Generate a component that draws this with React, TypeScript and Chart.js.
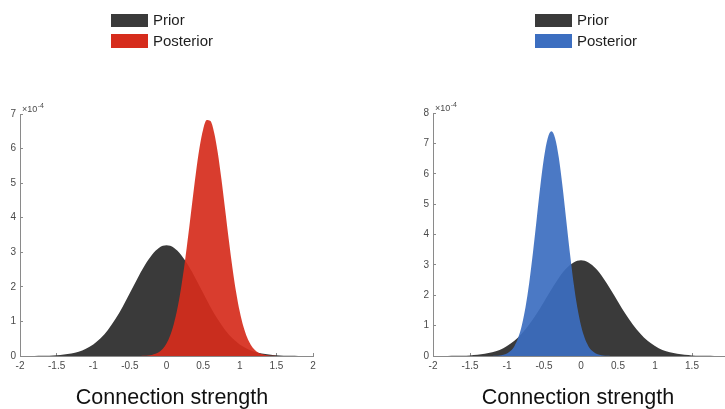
import React, { useEffect, useRef } from "react";
import { Chart, registerables } from "chart.js";

Chart.register(...registerables);

// ---------- data ----------
const SERIES_NAMES = ["Prior", "Posterior"];
const X_TITLE = "Connection strength";
const Y_EXPONENT_BASE = "\u00d710";
const Y_EXPONENT_POWER = "-4";

const X_TICKS = [-2, -1.5, -1, -0.5, 0, 0.5, 1, 1.5, 2];
const LEFT_Y_TICKS = [0, 1, 2, 3, 4, 5, 6, 7];
const RIGHT_Y_TICKS = [0, 1, 2, 3, 4, 5, 6, 7, 8];

// values in units of 1e-4
const PRIOR_X = [
  -2.0, -1.9, -1.8, -1.7, -1.6, -1.5, -1.4, -1.3, -1.2, -1.1, -1.0, -0.9, -0.8, -0.7, -0.6, -0.5, -0.4, -0.3, -0.2, -0.1,
  0.0, 0.1, 0.2, 0.3, 0.4, 0.5, 0.6, 0.7, 0.8, 0.9, 1.0, 1.1, 1.2, 1.3, 1.4, 1.5, 1.6, 1.7, 1.8, 1.9, 2.0,
];
const LEFT_PRIOR_Y = [
  0.0, 0.0, 0.0, 0.005, 0.01, 0.02, 0.04, 0.07, 0.12, 0.21, 0.33, 0.51, 0.75, 1.06, 1.42, 1.82, 2.23, 2.61, 2.92, 3.13,
  3.2, 3.13, 2.92, 2.61, 2.23, 1.82, 1.42, 1.06, 0.75, 0.51, 0.33, 0.21, 0.12, 0.07, 0.04, 0.02, 0.01, 0.005, 0.0, 0.0, 0.0,
];
const RIGHT_PRIOR_Y = [
  0.0, 0.0, 0.0, 0.005, 0.01, 0.02, 0.04, 0.07, 0.12, 0.2, 0.33, 0.5, 0.74, 1.04, 1.39, 1.79, 2.19, 2.57, 2.88, 3.08,
  3.15, 3.08, 2.88, 2.57, 2.19, 1.79, 1.39, 1.04, 0.74, 0.5, 0.33, 0.2, 0.12, 0.07, 0.04, 0.02, 0.01, 0.005, 0.0, 0.0, 0.0,
];

const LEFT_POST_X = [
  -0.35, -0.3, -0.25, -0.2, -0.15, -0.1, -0.05, 0.0, 0.05, 0.1, 0.15, 0.2, 0.25, 0.3, 0.35, 0.4, 0.45, 0.5, 0.55, 0.6,
  0.65, 0.7, 0.75, 0.8, 0.85, 0.9, 0.95, 1.0, 1.05, 1.1, 1.15, 1.2, 1.25, 1.3, 1.35, 1.4, 1.45, 1.5,
];
const LEFT_POST_Y = [
  0.0, 0.007, 0.016, 0.032, 0.063, 0.118, 0.211, 0.362, 0.592, 0.927, 1.387, 1.983, 2.711, 3.541, 4.42, 5.273, 6.013,
  6.553, 6.825, 6.794, 6.465, 5.878, 5.109, 4.243, 3.368, 2.556, 1.853, 1.284, 0.851, 0.539, 0.326, 0.188, 0.104, 0.055,
  0.028, 0.013, 0.006, 0.0,
];

const RIGHT_POST_X = [
  -1.25, -1.2, -1.15, -1.1, -1.05, -1.0, -0.95, -0.9, -0.85, -0.8, -0.75, -0.7, -0.65, -0.6, -0.55, -0.5, -0.45, -0.4,
  -0.35, -0.3, -0.25, -0.2, -0.15, -0.1, -0.05, 0.0, 0.05, 0.1, 0.15, 0.2, 0.25, 0.3, 0.35, 0.4, 0.45,
];
const RIGHT_POST_Y = [
  0.0, 0.003, 0.007, 0.016, 0.038, 0.082, 0.169, 0.325, 0.589, 1.001, 1.601, 2.403, 3.388, 4.488, 5.586, 6.531, 7.172,
  7.4, 7.172, 6.531, 5.586, 4.488, 3.388, 2.403, 1.601, 1.001, 0.589, 0.325, 0.169, 0.082, 0.038, 0.016, 0.007, 0.003,
  0.0,
];

// ---------- styles ----------
const FONT = "'Liberation Sans', Arial, Helvetica, sans-serif";
const PRIOR_COLOR = "#3a3a3a";
const RED = "rgba(214, 44, 28, 0.92)";
const RED_SOLID = "rgb(214, 44, 28)";
const BLUE = "rgba(60, 110, 192, 0.92)";
const BLUE_SOLID = "rgb(60, 110, 192)";
const AXIS_COLOR = "#8a8a8a";
const TICK_COLOR = "#4a4a4a";

const boxLegendPlugin = {
  id: "boxLegend",
  afterDraw(chart: any, _args: any, opts: any) {
    const ctx = chart.ctx;
    ctx.save();
    const x0 = opts.x;
    const rows = [
      { y: 14, h: 13, color: PRIOR_COLOR, label: SERIES_NAMES[0] },
      { y: 34, h: 14, color: opts.postColor, label: SERIES_NAMES[1] },
    ];
    ctx.font = `15px ${FONT}`;
    ctx.textAlign = "left";
    ctx.textBaseline = "middle";
    for (const r of rows) {
      ctx.fillStyle = r.color;
      ctx.fillRect(x0, r.y, 37, r.h);
      ctx.fillStyle = "#1e1e1e";
      ctx.fillText(r.label, x0 + 42, r.y + r.h / 2 + 0.5);
    }
    ctx.restore();
  },
};

const axisTextPlugin = {
  id: "axisText",
  afterDraw(chart: any, _args: any, opts: any) {
    const ctx = chart.ctx;
    const { left, right, top } = chart.chartArea;
    ctx.save();
    // exponent label at the top of the y axis
    ctx.fillStyle = TICK_COLOR;
    ctx.textAlign = "left";
    ctx.textBaseline = "middle";
    ctx.font = `9px ${FONT}`;
    const bx = left + 2;
    const by = top - 4;
    ctx.fillText(Y_EXPONENT_BASE, bx, by);
    const w = ctx.measureText(Y_EXPONENT_BASE).width;
    ctx.font = `7px ${FONT}`;
    ctx.fillText(Y_EXPONENT_POWER, bx + w + 0.5, by - 4);
    // x axis title
    ctx.fillStyle = "#111";
    ctx.textAlign = "center";
    ctx.textBaseline = "alphabetic";
    ctx.font = `21.5px ${FONT}`;
    ctx.fillText(X_TITLE, (left + right) / 2 + opts.titleDx, 404);
    ctx.restore();
  },
};

type Props = {
  priorY: number[];
  postX: number[];
  postY: number[];
  postFill: string;
  postSolid: string;
  yTicks: number[];
  legendX: number;
  titleDx: number;
  padTop: number;
  padRight: number;
  left: number;
};

function DensityChart(p: Props) {
  const ref = useRef<HTMLCanvasElement>(null);
  useEffect(() => {
    const chart = new Chart(ref.current as HTMLCanvasElement, {
      type: "line",
      data: {
        datasets: [
          {
            label: SERIES_NAMES[0],
            data: PRIOR_X.map((x, i) => ({ x, y: p.priorY[i] })),
            backgroundColor: PRIOR_COLOR,
            borderColor: "rgba(0,0,0,0)",
            borderWidth: 0,
            pointRadius: 0,
            fill: "origin",
            cubicInterpolationMode: "monotone",
            order: 2,
          },
          {
            label: SERIES_NAMES[1],
            data: p.postX.map((x, i) => ({ x, y: p.postY[i] })),
            backgroundColor: p.postFill,
            borderColor: "rgba(0,0,0,0)",
            borderWidth: 0,
            pointRadius: 0,
            fill: "origin",
            cubicInterpolationMode: "monotone",
            order: 1,
          },
        ],
      },
      options: {
        animation: false,
        responsive: false,
        devicePixelRatio: 1,
        events: [],
        layout: { padding: { top: p.padTop, right: p.padRight, bottom: 0, left: 0 } },
        scales: {
          x: {
            type: "linear",
            min: X_TICKS[0],
            max: X_TICKS[X_TICKS.length - 1],
            afterFit: (s: any) => {
              s.height = 53;
            },
            afterBuildTicks: (s: any) => {
              s.ticks = X_TICKS.map((v) => ({ value: v }));
            },
            ticks: {
              autoSkip: false,
              maxRotation: 0,
              padding: 7,
              color: TICK_COLOR,
              font: { family: FONT, size: 10 },
              callback: (v: any) => String(v),
            },
            grid: { display: true, drawOnChartArea: false, drawTicks: true, tickLength: -3, color: AXIS_COLOR },
            border: { display: true, color: AXIS_COLOR, width: 1 },
          },
          y: {
            type: "linear",
            min: p.yTicks[0],
            max: p.yTicks[p.yTicks.length - 1],
            afterFit: (s: any) => {
              s.width = 20;
            },
            afterBuildTicks: (s: any) => {
              s.ticks = p.yTicks.map((v) => ({ value: v }));
            },
            ticks: {
              autoSkip: false,
              padding: 7,
              color: TICK_COLOR,
              font: { family: FONT, size: 10 },
              callback: (v: any) => String(v),
            },
            grid: { display: true, drawOnChartArea: false, drawTicks: true, tickLength: -3, color: AXIS_COLOR },
            border: { display: true, color: AXIS_COLOR, width: 1 },
          },
        },
        plugins: {
          legend: { display: false },
          tooltip: { enabled: false },
          boxLegend: { x: p.legendX, postColor: p.postSolid },
          axisText: { titleDx: p.titleDx },
        } as any,
      },
      plugins: [boxLegendPlugin, axisTextPlugin],
    } as any);
    return () => chart.destroy();
  }, []);
  return (
    <canvas
      ref={ref}
      width={400}
      height={409}
      style={{ position: "absolute", left: p.left, top: 0, width: 400, height: 409 }}
    />
  );
}

export default function App() {
  return (
    <div
      style={{
        position: "absolute",
        left: 0,
        top: 0,
        width: 725,
        height: 409,
        overflow: "hidden",
        background: "#fff",
      }}
    >
      <DensityChart
        priorY={LEFT_PRIOR_Y}
        postX={LEFT_POST_X}
        postY={LEFT_POST_Y}
        postFill={RED}
        postSolid={RED_SOLID}
        yTicks={LEFT_Y_TICKS}
        legendX={111}
        titleDx={5.5}
        padTop={114}
        padRight={87}
        left={0}
      />
      <DensityChart
        priorY={RIGHT_PRIOR_Y}
        postX={RIGHT_POST_X}
        postY={RIGHT_POST_Y}
        postFill={BLUE}
        postSolid={BLUE_SOLID}
        yTicks={RIGHT_Y_TICKS}
        legendX={122}
        titleDx={-3}
        padTop={113}
        padRight={84}
        left={413}
      />
    </div>
  );
}
